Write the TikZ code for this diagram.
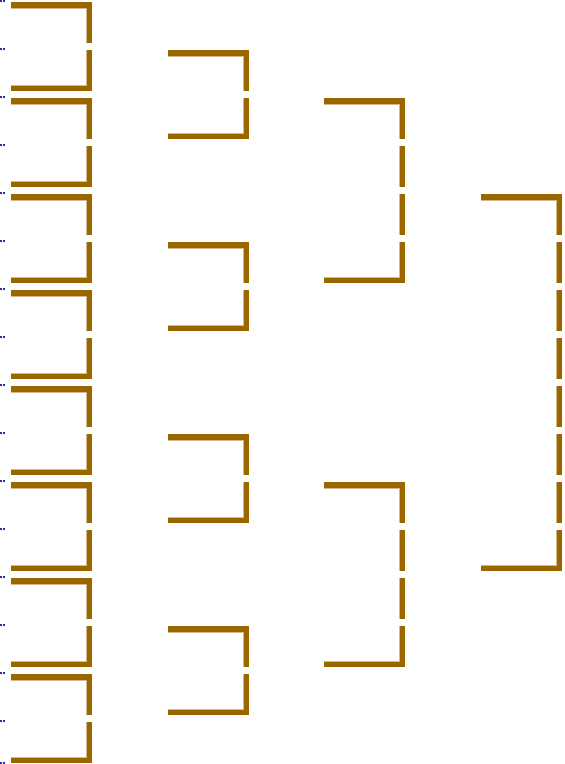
\documentclass[tikz,border=0pt]{standalone}
\usepackage{tikz}

\definecolor{bracketbrown}{RGB}{153,102,0}
\colorlet{bracketinner}{bracketbrown!45}
\definecolor{dotblue}{RGB}{45,45,170}

\begin{document}
\begin{tikzpicture}[x=1pt, y=-1pt,
	rim/.style={fill=bracketbrown},
	inner/.style={fill=bracketinner},
	dotmark/.style={fill=dotblue}]
	\useasboundingbox (0,0) rectangle (565,764);
	% little dots on the left edge
	\foreach \y in {0,48,...,720} {
		\fill[dotmark] (0.3,\y) rectangle (1.8,{\y+1.6});
		\fill[dotmark] (3.1,\y) rectangle (4.6,{\y+1.6});
	}
	\fill[dotmark] (0.3,762.2) rectangle (1.8,764);
	\fill[dotmark] (3.1,762.2) rectangle (4.6,764);
	% brackets: left x / first row / last row
	\foreach \xa/\ra/\rb in {11/0/1, 11/2/3, 11/4/5, 11/6/7, 11/8/9, 11/10/11, 11/12/13, 11/14/15,
		168/1/2, 168/5/6, 168/9/10, 168/13/14, 324/2/5, 324/10/13, 481/4/11} {
		\foreach \r in {\ra,...,\rb} {
			\fill[inner] ({\xa+74.5},{48*\r+2}) rectangle ({\xa+75.5},{48*\r+43});
			\fill[rim] ({\xa+75.5},{48*\r+2}) rectangle ({\xa+81},{48*\r+43});
		}
		\fill[inner] (\xa,{48*\ra+7.5}) rectangle ({\xa+75.5},{48*\ra+8.5});
		\fill[inner] (\xa,{48*\rb+36.5}) rectangle ({\xa+75.5},{48*\rb+37.5});
		\fill[rim] (\xa,{48*\ra+2}) rectangle ({\xa+81},{48*\ra+7.5});
		\fill[rim] (\xa,{48*\rb+37.5}) rectangle ({\xa+81},{48*\rb+43});
	}
\end{tikzpicture}
\end{document}
